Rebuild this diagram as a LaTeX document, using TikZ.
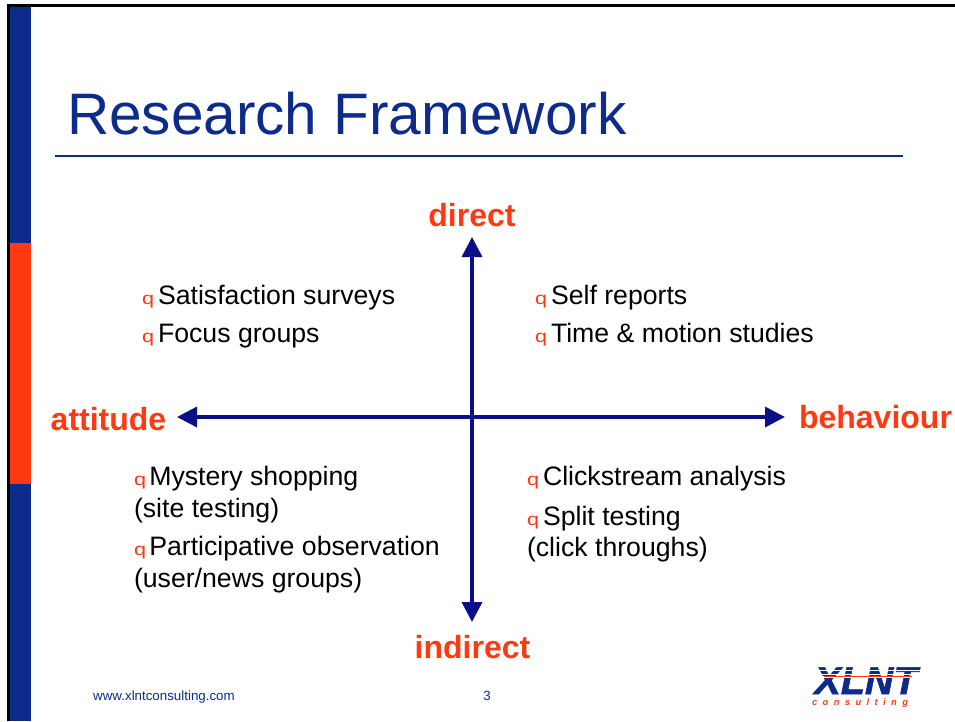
\documentclass[tikz,border=0pt]{standalone}
\usepackage{fontspec}
\setmainfont{Liberation Sans}
\usetikzlibrary{arrows.meta}
\definecolor{navy}{HTML}{0D2B88}
\definecolor{arrowblue}{HTML}{0A0F85}
\definecolor{hot}{HTML}{FF3A12}
\tikzset{
  x=0.75pt,y=-0.75pt,
  every node/.style={inner sep=0pt,outer sep=0pt},
  body/.style={anchor=base west,font=\fontsize{20}{24}\selectfont,text=black},
  axislabel/.style={anchor=base,font=\fontsize{24}{28}\selectfont\bfseries,text=hot},
  axis/.style={draw=arrowblue,line width=2.6pt,{Triangle[length=15pt,width=15pt]}-{Triangle[length=15pt,width=15pt]},shorten <=0pt,shorten >=0pt},
  foot/.style={anchor=base,font=\fontsize{10}{12}\selectfont,text=navy}
}
\newcommand{\bul}{\makebox[12pt][l]{\scalebox{1.25}[1]{\color{hot}\fontsize{13}{14}\selectfont q}}}
\newcommand{\bulb}{\makebox[11.5pt][l]{\scalebox{1.25}[1]{\color{hot}\fontsize{13}{14}\selectfont q}}}
\newfontfamily\logofont[FakeBold=1.5,ItalicFont={Liberation Sans Bold Italic}]{Liberation Sans Bold}
\begin{document}
\begin{tikzpicture}
\useasboundingbox (0,0) rectangle (955,721);
\fill[white] (0,0) rectangle (955,721);
% frame
\fill[black] (7,4) rectangle (955,6.5);
\fill[black] (7,4) rectangle (10,721);
\fill[navy] (10,6.5) rectangle (31,721);
\fill[hot] (10,243) rectangle (31,484);
% title
\node[anchor=base west,font=\fontsize{43.9}{50}\selectfont,text=navy] (title) at (67,134) {Research Framework};
\fill[navy] (55,154.5) rectangle (903,157);
% axes
\coordinate (top) at (472,237);
\coordinate (bot) at (472,622);
\coordinate (lft) at (177,417);
\coordinate (rgt) at (785,417);
\draw[axis] (top) -- (bot);
\draw[axis] (lft) -- (rgt);
% axis labels
\node[axislabel] (ldirect) at (472,226) {direct};
\node[axislabel] (lindirect) at (472.5,658) {indirect};
\node[axislabel] (lattitude) at (108.5,430) {attitude};
\node[axislabel] (lbehaviour) at (875.5,428) {behaviour};
% top left
\node[body] (a1) at (142,304) {\bul Satisfaction surveys};
\node[body] (a2) at (142,342) {\bul Focus groups};
% top right
\node[body] (b1) at (535,304) {\bul Self reports};
\node[body] (b2) at (535,342) {\bul Time \& motion studies};
% bottom left
\node[body] (c1) at (134,485) {\bulb Mystery shopping};
\node[body] (c2) at (134,517) {(site testing)};
\node[body] (c3) at (134,555) {\bulb Participative observation};
\node[body] (c4) at (134,587) {(user/news groups)};
% bottom right
\node[body] (d1) at (527,485) {\bul Clickstream analysis};
\node[body] (d2) at (527,525) {\bul Split testing};
\node[body] (d3) at (527,556) {(click throughs)};
% footer
\node[foot] (url) at (164,700) {www.xlntconsulting.com};
\node[foot] (page) at (487,700) {3};
% logo
\node[anchor=base,text=navy] (xlnt) at (866,694) {\scalebox{1.02}[1]{\logofont\itshape\fontsize{29}{30}\selectfont XLNT}};
\fill[white] (808,670) rectangle (925,671);
\fill[white] (808,673.5) rectangle (925,674.5);
\fill[white] (808,675.8) rectangle (925,677.6);
\fill[hot] (824,676.2) rectangle (912,677.2);
\node[anchor=base,text=hot] (cons) at (860,705.5) {\fontsize{7}{8}\selectfont\bfseries\itshape\addfontfeature{LetterSpace=58}consulting};
\end{tikzpicture}
\end{document}
